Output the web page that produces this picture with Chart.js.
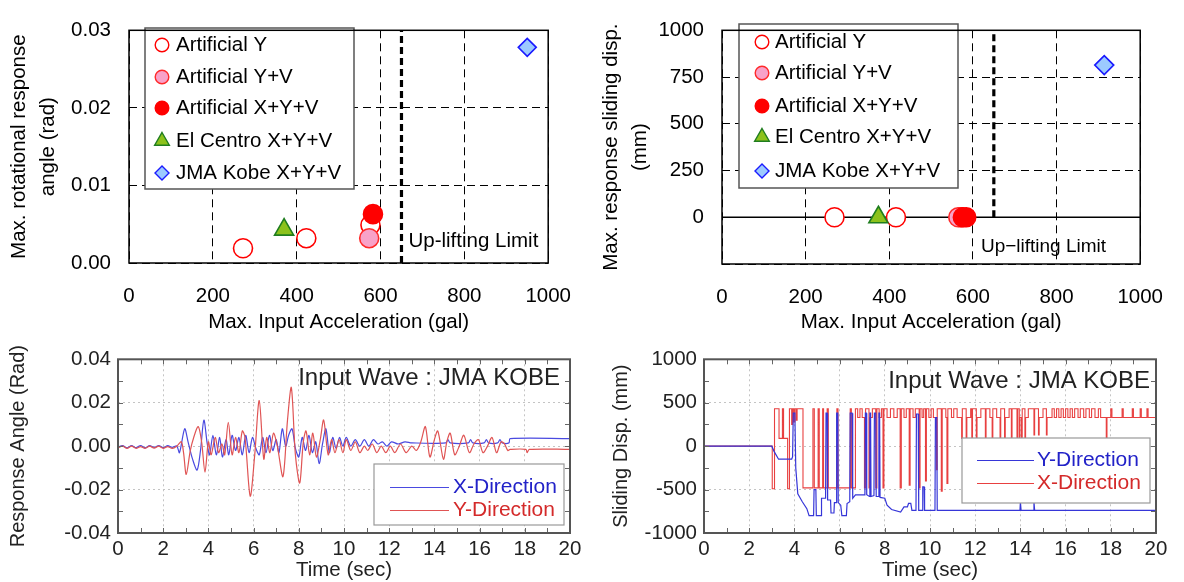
<!DOCTYPE html>
<html><head><meta charset="utf-8">
<script src="https://cdn.jsdelivr.net/npm/chart.js@4.4.0/dist/chart.umd.min.js"></script>
<style>
html,body{margin:0;padding:0;background:#fff;width:1184px;height:582px;overflow:hidden}
canvas{position:absolute}
</style></head><body>
<canvas id="c1" width="592" height="340" style="left:0;top:0"></canvas>
<canvas id="c2" width="592" height="340" style="left:592px;top:0"></canvas>
<canvas id="c3" width="592" height="242" style="left:0;top:340px"></canvas>
<canvas id="c4" width="592" height="242" style="left:592px;top:340px"></canvas>
<script>
const FONT = '"Liberation Sans", Arial, Helvetica, sans-serif';

// ---------- data: top charts ----------
const seriesLabels = ['Artificial Y', 'Artificial Y+V', 'Artificial X+Y+V', 'El Centro X+Y+V', 'JMA Kobe X+Y+V'];
const accelRange = [0, 1000];
const accelStep = 200;
const upliftLimit = 650;

const rotRange = [0, 0.03];
const rotStep = 0.01;
const rotArtY = [[272, 0.0019], [423, 0.0032], [576, 0.0049]];
const rotArtYV = [[573, 0.0032]];
const rotArtXYV = [[582, 0.0063]];
const rotElCentro = [[370, 0.0043]];
const rotKobe = [[950, 0.0278]];

const slideRange = [-250, 1000];
const slideStep = 250;
const slideArtY = [[269, 0], [416, 0], [572, 0]];
const slideArtYV = [[565, 0]];
const slideArtXYV = [[576, 0], [584, 0]];
const slideElCentro = [[374, 0]];
const slideKobe = [[914, 814]];

// ---------- data: bottom charts ----------
const timeRange = [0, 20];
const timeStep = 2;
const timeMinorTicks = [1,2,3,4,5,6,7,8,9,10,11,12,13,14,15,16,17,18,19];
const angleRange = [-0.04, 0.04];
const angleStep = 0.02;
const angleMinorTicks = [-0.03, -0.02, -0.01, 0, 0.01, 0.02, 0.03];
const dispRange = [-1000, 1000];
const dispStep = 500;
const dispMinorTicks = [-750, -500, -250, 0, 250, 500, 750];

const angleX = [[0,-0.0005],[0.2,0.0003],[0.4,-0.0008],[0.6,0.0002],[0.8,-0.0007],[1.0,0.0003],[1.2,-0.0008],[1.4,0.0002],[1.6,-0.0006],[1.8,0.0003],[2.0,-0.0007],[2.2,0.0002],[2.4,-0.0006],[2.6,0.0001],[2.72,-0.003],[2.95,0.008],[3.1,0.002],[3.3,-0.006],[3.5,-0.011],[3.65,-0.002],[3.8,0.012],[3.95,0.001],[4.05,-0.004],[4.2,0.005],[4.35,-0.004],[4.5,0.004],[4.62,-0.005],[4.78,0.003],[4.9,-0.004],[5.05,0.005],[5.2,-0.002],[5.35,0.004],[5.5,-0.004],[5.65,0.005],[5.8,-0.003],[5.95,0.004],[6.1,-0.001],[6.25,-0.004],[6.4,0.004],[6.55,-0.003],[6.7,0.005],[6.85,-0.002],[7.0,0.003],[7.12,-0.003],[7.27,0.008],[7.42,0.0],[7.55,0.005],[7.7,0.008],[7.85,-0.001],[8.0,-0.005],[8.15,0.004],[8.3,-0.002],[8.45,0.005],[8.6,-0.003],[8.75,0.002],[8.9,-0.008],[9.05,0.001],[9.2,0.008],[9.35,-0.003],[9.5,0.004],[9.65,-0.001],[9.8,0.004],[9.95,0.0],[10.1,0.004],[10.3,0.0],[10.5,0.003],[10.7,0.0],[10.9,0.003],[11.1,0.0],[11.3,0.003],[11.5,0.001],[11.7,0.002],[11.9,0.0],[12.1,0.002],[12.4,0.001],[12.7,0.002],[13.0,0.0015],[14.5,0.0015],[14.6,0.003],[14.7,0.0015],[15.5,0.0015],[15.6,0.003],[15.7,0.0015],[16.2,0.0015],[16.3,0.003],[16.4,0.0015],[16.8,0.0015],[16.9,0.003],[17.0,0.0015],[17.3,0.0015],[17.35,0.0035],[20,0.0035]];

const angleY = [[0,-0.0008],[0.2,0.0],[0.4,-0.001],[0.6,0.0],[0.8,-0.001],[1.0,-0.0002],[1.2,-0.001],[1.4,0.0],[1.6,-0.0009],[1.8,0.0],[2.0,-0.001],[2.2,-0.0002],[2.4,-0.001],[2.6,0.0],[2.8,0.002],[2.9,-0.003],[3.02,-0.013],[3.2,-0.002],[3.35,0.004],[3.55,0.009],[3.7,0.002],[3.85,-0.012],[4.0,0.002],[4.12,-0.004],[4.3,0.004],[4.45,-0.003],[4.6,0.001],[4.72,-0.004],[4.88,0.011],[5.05,-0.004],[5.2,0.004],[5.35,-0.003],[5.5,0.007],[5.62,0.004],[5.85,-0.023],[6.05,-0.004],[6.25,0.021],[6.45,-0.006],[6.58,0.004],[6.72,-0.003],[6.88,0.006],[7.05,0.0],[7.3,-0.014],[7.5,0.012],[7.67,0.027],[7.85,-0.004],[8.04,-0.017],[8.2,0.002],[8.32,0.007],[8.48,-0.004],[8.62,0.006],[8.78,-0.005],[8.95,0.003],[9.1,0.012],[9.3,-0.004],[9.45,0.003],[9.6,-0.003],[9.78,0.003],[9.95,-0.003],[10.1,0.003],[10.3,-0.002],[10.5,0.002],[10.7,-0.003],[10.9,0.0],[11.05,-0.002],[11.25,0.001],[11.45,-0.003],[11.65,0.0],[11.85,-0.003],[12.05,0.0],[12.25,-0.003],[12.5,0.001],[12.75,-0.003],[13.0,0.0],[13.2,-0.002],[13.4,0.002],[13.6,0.009],[13.8,-0.005],[14.0,0.003],[14.15,0.007],[14.4,-0.006],[14.55,0.002],[14.7,0.006],[14.9,-0.004],[15.1,0.0],[15.3,0.005],[15.55,-0.003],[15.75,0.001],[15.95,0.003],[16.15,-0.003],[16.35,0.0],[16.55,0.004],[16.75,-0.003],[16.95,0.002],[17.1,0.001],[17.25,-0.002],[17.35,-0.0015],[18.05,-0.0015],[18.1,-0.003],[18.2,-0.0015],[20,-0.0015]];

const slideY = [[0,0],[3.0,0],[3.1,-60],[3.3,-150],[3.88,-150],[3.92,-120],[3.95,380],[4.02,380],[4.06,-250],[4.15,-550],[4.35,-640],[4.55,-720],[4.65,-800],[4.85,-800],[4.87,-500],[4.95,-500],[4.97,-800],[5.18,-800],[5.2,-600],[5.38,-600],[5.4,380],[5.45,380],[5.47,-620],[5.6,-620],[5.62,-770],[5.75,-770],[5.77,-650],[5.85,-650],[5.87,380],[5.92,380],[5.94,-650],[6.05,-680],[6.1,-800],[6.3,-800],[6.33,-660],[6.45,-640],[6.47,380],[6.55,380],[6.58,-600],[6.7,-560],[7.12,-560],[7.14,380],[7.18,380],[7.2,-560],[7.32,-580],[7.34,380],[7.37,380],[7.39,-580],[7.52,-570],[7.54,380],[7.6,380],[7.62,-580],[7.72,-580],[7.74,380],[7.77,380],[7.79,-590],[8.0,-600],[8.1,-680],[8.3,-730],[8.7,-760],[8.85,-700],[9.0,-700],[9.05,-660],[9.15,-660],[9.2,-740],[9.38,-740],[9.4,370],[9.48,370],[9.5,-740],[9.66,-740],[9.68,-470],[9.74,-470],[9.76,-740],[10.22,-740],[10.24,330],[10.3,330],[10.32,-740],[13.98,-740],[14.0,-640],[14.03,-740],[14.58,-740],[14.6,-640],[14.63,-740],[20,-740]];

// stepped: each point = value held from that time on
const slideX = [[0,0],[3.02,-490],[3.12,430],[3.32,90],[3.47,430],[3.52,90],[3.7,-490],[3.78,430],[3.88,250],[3.92,430],[3.97,280],[4.02,430],[4.08,300],[4.12,430],[4.38,-480],[4.82,430],[4.88,-480],[5.05,430],[5.1,-480],[5.25,430],[5.29,-480],[5.45,430],[5.5,-480],[5.88,430],[5.93,-480],[6.47,430],[6.52,-480],[6.7,430],[6.8,330],[6.9,430],[7.0,330],[7.1,-480],[7.15,430],[7.3,-480],[7.35,330],[7.45,430],[7.6,-480],[7.65,430],[7.75,330],[7.85,430],[7.92,-480],[7.96,430],[8.1,330],[8.25,430],[8.4,330],[8.55,430],[8.68,-480],[8.73,430],[8.85,330],[8.95,430],[9.08,-450],[9.12,430],[9.25,330],[9.35,430],[9.52,-480],[9.56,430],[9.65,330],[9.72,430],[9.8,-400],[9.84,430],[9.95,330],[10.05,430],[10.15,330],[10.28,-270],[10.32,430],[10.5,-520],[10.54,430],[10.7,330],[10.75,-430],[10.79,430],[10.95,330],[11.05,430],[11.2,330],[11.4,90],[11.43,430],[11.6,90],[11.63,330],[11.8,430],[11.85,90],[11.88,430],[12.05,90],[12.08,330],[12.25,430],[12.45,90],[12.48,430],[12.65,330],[12.75,90],[12.78,430],[12.95,330],[13.1,90],[13.13,430],[13.3,90],[13.33,330],[13.5,430],[13.6,90],[13.63,430],[13.85,90],[13.88,430],[13.95,90],[13.98,330],[14.05,90],[14.08,430],[14.2,90],[14.23,330],[14.35,430],[14.6,130],[14.63,430],[14.8,130],[14.83,330],[15.0,430],[15.15,130],[15.18,330],[15.4,430],[15.5,330],[15.6,430],[15.7,330],[15.8,430],[15.9,330],[16.0,430],[16.1,330],[16.2,430],[16.3,330],[16.4,430],[16.55,330],[16.65,430],[16.8,330],[16.9,430],[17.05,330],[17.15,430],[17.3,330],[17.45,430],[17.55,330],[17.8,100],[17.83,330],[18.0,430],[18.05,330],[18.5,430],[18.55,330],[18.95,430],[19.0,330],[19.3,430],[19.35,330],[19.6,430],[19.65,330],[20,330]];

// ---------- helpers ----------
const xy = a => a.map(p => ({x: p[0], y: p[1]}));

function pointDs(label, pts, style, fill, stroke, r, lr, order) {
  return {label, data: xy(pts), pointStyle: style, backgroundColor: fill, borderColor: stroke,
    pointBackgroundColor: fill, pointBorderColor: stroke,
    pointRadius: r, pointHoverRadius: r, pointBorderWidth: 1.6, showLine: false, order, legendR: lr};
}

function drawMarker(ctx, style, x, y, r, fill, stroke, lw) {
  ctx.save();
  ctx.fillStyle = fill; ctx.strokeStyle = stroke; ctx.lineWidth = lw;
  ctx.beginPath();
  if (style === 'circle') ctx.arc(x, y, r, 0, Math.PI * 2);
  else if (style === 'triangle') {
    ctx.moveTo(x, y - r);
    ctx.lineTo(x + Math.sin(2 * Math.PI / 3) * r, y - Math.cos(2 * Math.PI / 3) * r);
    ctx.lineTo(x + Math.sin(4 * Math.PI / 3) * r, y - Math.cos(4 * Math.PI / 3) * r);
    ctx.closePath();
  } else if (style === 'rectRot') {
    ctx.moveTo(x - r, y); ctx.lineTo(x, y - r); ctx.lineTo(x + r, y); ctx.lineTo(x, y + r); ctx.closePath();
  }
  ctx.fill(); ctx.stroke();
  ctx.restore();
}

function topDecor(cfg) {
  return {
    id: 'topDecor',
    afterDatasetsDraw(chart) {
      const {ctx, chartArea: a, scales: {x, y}} = chart;
      ctx.save();
      const b = cfg.box;
      ctx.fillStyle = '#fff'; ctx.fillRect(b.l, b.t, b.w, b.h);
      ctx.strokeStyle = '#555'; ctx.lineWidth = 1.5; ctx.strokeRect(b.l, b.t, b.w, b.h);
      ctx.font = '20.5px ' + FONT; ctx.textBaseline = 'middle'; ctx.textAlign = 'left';
      chart.data.datasets.filter(d => d.legendR).forEach((d, i) => {
        drawMarker(ctx, d.pointStyle, b.mx, b.rows[i], d.legendR, d.backgroundColor, d.borderColor, 1.4);
        ctx.fillStyle = '#000';
        ctx.fillText(d.label, b.tx, b.rows[i]);
      });
      ctx.font = cfg.upFont; ctx.fillStyle = '#000';
      ctx.fillText(cfg.upText, x.getPixelForValue(cfg.upX) + cfg.upDx, a.bottom - cfg.upDy);
      ctx.strokeStyle = '#000'; ctx.lineWidth = 1.5;
      ctx.strokeRect(a.left, a.top, a.right - a.left, a.bottom - a.top);
      ctx.restore();
    }
  };
}

function bottomDecor(cfg) {
  return {
    id: 'bottomDecor',
    afterDatasetsDraw(chart) {
      const {ctx, chartArea: a, scales: {x, y}} = chart;
      ctx.save();
      ctx.strokeStyle = '#666'; ctx.lineWidth = 1; ctx.beginPath();
      cfg.xMinor.forEach(v => { const p = Math.round(x.getPixelForValue(v)) + 0.5;
        ctx.moveTo(p, a.top); ctx.lineTo(p, a.top + 5); ctx.moveTo(p, a.bottom); ctx.lineTo(p, a.bottom - 5); });
      cfg.yMinor.forEach(v => { const p = Math.round(y.getPixelForValue(v)) + 0.5;
        ctx.moveTo(a.left, p); ctx.lineTo(a.left + 5, p); ctx.moveTo(a.right, p); ctx.lineTo(a.right - 5, p); });
      ctx.stroke();
      ctx.fillStyle = '#222'; ctx.font = '24px ' + FONT; ctx.textAlign = 'right'; ctx.textBaseline = 'middle';
      ctx.fillText('Input Wave : JMA KOBE', a.right - cfg.twDx, a.top + cfg.twDy);
      const b = cfg.box;
      ctx.fillStyle = '#fff'; ctx.fillRect(b.l, b.t, b.w, b.h);
      ctx.strokeStyle = '#999'; ctx.lineWidth = 1.2; ctx.strokeRect(b.l, b.t, b.w, b.h);
      ctx.font = '21px ' + FONT; ctx.textAlign = 'left';
      b.items.forEach((it, i) => {
        ctx.strokeStyle = it.color; ctx.lineWidth = 1.2; ctx.beginPath();
        ctx.moveTo(b.x1, b.rows[i] + 0.5); ctx.lineTo(b.x2, b.rows[i] + 0.5); ctx.stroke();
        ctx.fillStyle = it.text; ctx.fillText(it.label, b.tx, b.rows[i]);
      });
      ctx.strokeStyle = '#555'; ctx.lineWidth = 2;
      ctx.strokeRect(a.left, a.top, a.right - a.left, a.bottom - a.top);
      ctx.restore();
    }
  };
}

function topScales(yMin, yMax, yStep, yCb, yTitle, yW, xH) {
  return {
    x: {type: 'linear', min: accelRange[0], max: accelRange[1],
      afterFit: s => { s.height = xH; },
      ticks: {stepSize: accelStep, callback: v => String(v), font: {family: FONT, size: 20.5}, color: '#000', padding: 21, maxRotation: 0},
      grid: {color: '#000', lineWidth: 1, drawTicks: false},
      border: {display: false, dash: [8, 5]},
      title: {display: true, text: 'Max. Input Acceleration (gal)', font: {family: FONT, size: 20.5, lineHeight: 1.2}, color: '#000', padding: {top: 0, bottom: 5}}},
    y: {type: 'linear', min: yMin, max: yMax,
      afterFit: s => { s.width = yW; },
      ticks: {stepSize: yStep, callback: yCb, font: {family: FONT, size: 20.5}, color: '#000', padding: 18},
      grid: {color: '#000', lineWidth: 1, drawTicks: false},
      border: {display: false, dash: [8, 5]},
      title: {display: true, text: yTitle, font: {family: FONT, size: 20.5, lineHeight: 1.4}, color: '#000', padding: {top: 5, bottom: 0}}}
  };
}

function bottomScales(yMin, yMax, yStep, yCb, yTitle, yW, xH, titlePad) {
  return {
    x: {type: 'linear', min: timeRange[0], max: timeRange[1],
      afterFit: s => { s.height = xH; },
      ticks: {stepSize: timeStep, callback: v => String(v), font: {family: FONT, size: 20.5}, color: '#222', padding: 4, maxRotation: 0},
      grid: {color: '#c4c4c4', lineWidth: 1, drawTicks: false},
      border: {display: false, dash: [2, 3]},
      title: {display: true, text: 'Time (sec)', font: {family: FONT, size: 20.5, lineHeight: 1.0}, color: '#222', padding: {top: 0, bottom: 1}}},
    y: {type: 'linear', min: yMin, max: yMax,
      afterFit: s => { s.width = yW; },
      ticks: {stepSize: yStep, callback: yCb, font: {family: FONT, size: 20.5}, color: '#222', padding: 7},
      grid: {color: '#c4c4c4', lineWidth: 1, drawTicks: false},
      border: {display: false, dash: [2, 3]},
      title: {display: true, text: yTitle, font: {family: FONT, size: 20, lineHeight: 1.2}, color: '#222', padding: {top: titlePad, bottom: 0}}}
  };
}

const baseOpts = {responsive: false, animation: false, devicePixelRatio: 1,
  plugins: {legend: {display: false}, tooltip: {enabled: false}}, events: []};

// ---------- chart 1 ----------
new Chart(document.getElementById('c1'), {
  type: 'scatter',
  data: {datasets: [
    pointDs(seriesLabels[0], rotArtY, 'circle', '#ffffff', '#ff0000', 9.5, 6.8, 3),
    pointDs(seriesLabels[1], rotArtYV, 'circle', '#f8a2c8', '#ff2a2a', 9.5, 6.8, 2),
    pointDs(seriesLabels[2], rotArtXYV, 'circle', '#ff0000', '#ff0000', 9.5, 6.8, 1),
    pointDs(seriesLabels[3], rotElCentro, 'triangle', '#8cc21c', '#1f7d1f', 11, 8.5, 0),
    pointDs(seriesLabels[4], rotKobe, 'rectRot', '#9ccaff', '#1a1aff', 9, 7, 0),
    {type: 'line', label: 'uplift', data: [{x: upliftLimit, y: rotRange[0]}, {x: upliftLimit, y: rotRange[1]}],
      borderColor: '#000', borderWidth: 3.2, borderDash: [7, 4], pointRadius: 0, order: 10}
  ]},
  options: Object.assign({}, baseOpts, {
    layout: {padding: {top: 21, right: 36, left: 0, bottom: 0}},
    scales: topScales(rotRange[0], rotRange[1], rotStep, v => v.toFixed(2), ['Max. rotational response', 'angle (rad)'], 129, 77)
  }),
  plugins: [topDecor({box: {l: 145, t: 28, w: 209, h: 161, mx: 162, tx: 176, rows: [45, 77, 108, 141, 173]},
    upFont: '20.5px ' + FONT, upText: 'Up-lifting Limit', upX: upliftLimit, upDx: 7, upDy: 22})]
});

// ---------- chart 2 ----------
new Chart(document.getElementById('c2'), {
  type: 'scatter',
  data: {datasets: [
    pointDs(seriesLabels[0], slideArtY, 'circle', '#ffffff', '#ff0000', 9.5, 6.8, 3),
    pointDs(seriesLabels[1], slideArtYV, 'circle', '#f8a2c8', '#ff2a2a', 9.5, 6.8, 2),
    pointDs(seriesLabels[2], slideArtXYV, 'circle', '#ff0000', '#ff0000', 9.5, 6.8, 1),
    pointDs(seriesLabels[3], slideElCentro, 'triangle', '#8cc21c', '#1f7d1f', 11, 8.5, 0),
    pointDs(seriesLabels[4], slideKobe, 'rectRot', '#9ccaff', '#1a1aff', 9.5, 7, 0),
    {type: 'line', label: 'zero', data: [{x: accelRange[0], y: 0}, {x: accelRange[1], y: 0}],
      borderColor: '#000', borderWidth: 1.3, pointRadius: 0, order: 11},
    {type: 'line', label: 'uplift', data: [{x: upliftLimit, y: 0}, {x: upliftLimit, y: slideRange[1]}],
      borderColor: '#000', borderWidth: 3.2, borderDash: [7, 4], pointRadius: 0, order: 10}
  ]},
  options: Object.assign({}, baseOpts, {
    layout: {padding: {top: 16, right: 22, left: 0, bottom: 0}},
    scales: topScales(slideRange[0], slideRange[1], slideStep, v => (v < 0 ? '' : String(v)), ['Max. response sliding disp.', '(mm)'], 130, 76)
  }),
  plugins: [topDecor({box: {l: 147, t: 24, w: 219, h: 164, mx: 170, tx: 183, rows: [42, 73, 106, 137, 171]},
    upFont: '19px ' + FONT, upText: 'Up\u2212lifting Limit', upX: 600, upDx: 8, upDy: 17})]
});

// ---------- chart 3 ----------
new Chart(document.getElementById('c3'), {
  type: 'scatter',
  data: {datasets: [
    {label: 'Y-Direction', data: xy(angleY), showLine: true, borderColor: '#e05454', borderWidth: 1.2, pointRadius: 0, tension: 0.3},
    {label: 'X-Direction', data: xy(angleX), showLine: true, borderColor: '#4a4ae0', borderWidth: 1.2, pointRadius: 0, tension: 0.3}
  ]},
  options: Object.assign({}, baseOpts, {
    layout: {padding: {top: 17, right: 22, left: 0, bottom: 0}},
    scales: bottomScales(angleRange[0], angleRange[1], angleStep, v => v.toFixed(2), 'Response Angle (Rad)', 118, 49, 6)
  }),
  plugins: [bottomDecor({xMinor: timeMinorTicks, yMinor: angleMinorTicks, twDx: 10, twDy: 19,
    box: {l: 374, t: 124, w: 190, h: 61, x1: 390, x2: 449, tx: 453, rows: [147, 170],
      items: [{label: 'X-Direction', color: '#4a4ae0', text: '#2222c8'}, {label: 'Y-Direction', color: '#e05454', text: '#d42a2a'}]}})]
});

// ---------- chart 4 ----------
new Chart(document.getElementById('c4'), {
  type: 'scatter',
  data: {datasets: [
    {label: 'Y-Direction', data: xy(slideY), showLine: true, borderColor: '#3636d8', borderWidth: 1.2, pointRadius: 0, tension: 0},
    {label: 'X-Direction', data: xy(slideX), showLine: true, stepped: true, borderColor: '#e84040', borderWidth: 1.1, pointRadius: 0}
  ]},
  options: Object.assign({}, baseOpts, {
    layout: {padding: {top: 17, right: 28, left: 0, bottom: 0}},
    scales: bottomScales(dispRange[0], dispRange[1], dispStep, v => String(v), 'Sliding Disp. (mm)', 112, 49, 17)
  }),
  plugins: [bottomDecor({xMinor: timeMinorTicks, yMinor: dispMinorTicks, twDx: 6, twDy: 22,
    box: {l: 370, t: 98, w: 188, h: 65, x1: 385, x2: 442, tx: 445, rows: [120, 143],
      items: [{label: 'Y-Direction', color: '#3636d8', text: '#2222c8'}, {label: 'X-Direction', color: '#e84040', text: '#d42a2a'}]}})]
});
</script>
</body></html>
